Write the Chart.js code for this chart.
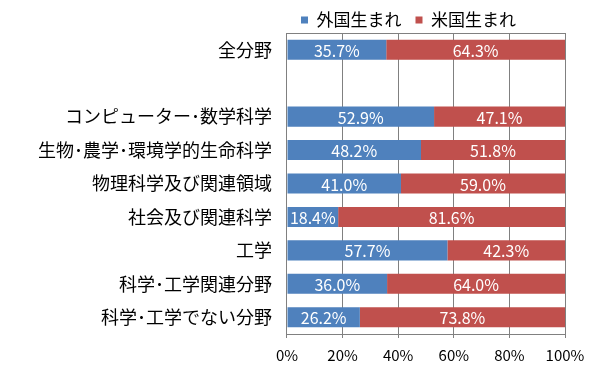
<!DOCTYPE html>
<html>
<head>
<meta charset="utf-8">
<script src="https://cdn.jsdelivr.net/npm/chart.js@4"></script>
<style>
  body { margin: 0; background: #fff; }
  #wrap { width: 600px; height: 366px; }
</style>
</head>
<body>
<div id="wrap"><canvas id="myCanvas"></canvas></div>
<script>
const categories = ['全分野', '', 'コンピューター･数学科学', '生物･農学･環境学的生命科学', '物理科学及び関連領域', '社会及び関連科学', '工学', '科学･工学関連分野', '科学･工学でない分野'];
const foreignBorn = [35.7, null, 52.9, 48.2, 41.0, 18.4, 57.7, 36.0, 26.2];
const usBorn = [64.3, null, 47.1, 51.8, 59.0, 81.6, 42.3, 64.0, 73.8];
const tickStep = 20;

const fontFamily = "'Noto Sans CJK JP', 'Noto Sans', sans-serif";
const gridGray = '#808080';

// white value labels in the middle of every bar
const barLabels = {
	id: 'barLabels',
	afterDatasetsDraw(chart) {
		const c = chart.ctx;
		c.save();
		c.fillStyle = '#fff';
		c.font = '16px ' + fontFamily;
		c.textAlign = 'center';
		c.textBaseline = 'middle';
		chart.data.datasets.forEach((ds, i) => {
			chart.getDatasetMeta(i).data.forEach((bar, j) => {
				const v = ds.data[j];
				if (v == null) return;
				const p = bar.getCenterPoint();
				c.fillText(v.toFixed(1) + '%', p.x, p.y + 1);
			});
		});
		c.restore();
	}
};

const ctx = document.querySelector('#myCanvas');
const chart = new Chart(ctx, {
	type: 'bar',
	data: {
		labels: categories,
		datasets: [
			{ label: '外国生まれ', data: foreignBorn, backgroundColor: '#4F81BD' },
			{ label: '米国生まれ', data: usBorn, backgroundColor: '#C0504D' }
		]
	},
	options: {
		indexAxis: 'y',
		responsive: true,
		maintainAspectRatio: false,
		animation: false,
		categoryPercentage: 1,
		barPercentage: 0.6,
		layout: { padding: { left: 23, right: 35, top: -2.5, bottom: -6 } },
		plugins: {
			tooltip: { enabled: false },
			legend: {
				position: 'top',
				align: 'start',
				fullSize: false,
				maxHeight: 35.5,
				labels: {
					boxWidth: 7,
					boxHeight: 7,
					padding: 14,
					color: '#000',
					font: { family: fontFamily, size: 17 }
				}
			}
		},
		scales: {
			x: {
				stacked: true,
				min: 0,
				max: 100,
				ticks: {
					stepSize: tickStep,
					color: '#000',
					padding: 8,
					font: { family: fontFamily, size: 15 },
					callback: v => v + '%'
				},
				grid: { color: gridGray, lineWidth: 1, tickLength: 4 },
				border: { color: gridGray, width: 1 }
			},
			y: {
				stacked: true,
				ticks: {
					color: '#000',
					padding: 15,
					font: { family: fontFamily, size: 18 }
				},
				// only the top edge of the plot gets a line
				grid: {
					drawTicks: false,
					lineWidth: 1,
					color: c => c.index === 0 ? gridGray : 'rgba(0,0,0,0)'
				},
				border: { color: gridGray, width: 1 }
			}
		}
	},
	plugins: [barLabels]
});
</script>
</body>
</html>
